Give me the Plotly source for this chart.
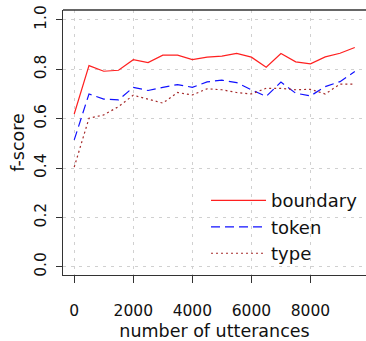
import plotly.graph_objects as go

utterances = [0, 500, 1000, 1500, 2000, 2500, 3000, 3500, 4000, 4500,
              5000, 5500, 6000, 6500, 7000, 7500, 8000, 8500, 9000, 9500]
boundary = [0.619, 0.815, 0.792, 0.796, 0.839, 0.827, 0.857, 0.857, 0.839, 0.849,
            0.853, 0.864, 0.849, 0.808, 0.864, 0.830, 0.822, 0.850, 0.865, 0.888]
token = [0.514, 0.700, 0.679, 0.676, 0.727, 0.714, 0.727, 0.738, 0.727, 0.749,
         0.756, 0.746, 0.717, 0.690, 0.748, 0.703, 0.692, 0.730, 0.750, 0.791]
type_ = [0.404, 0.602, 0.615, 0.649, 0.695, 0.680, 0.663, 0.706, 0.696, 0.721,
         0.717, 0.706, 0.700, 0.723, 0.723, 0.717, 0.719, 0.700, 0.740, 0.740]
x_ticks = [0, 2000, 4000, 6000, 8000]
y_ticks = [0.0, 0.2, 0.4, 0.6, 0.8, 1.0]
y_tick_labels = ["0.0", "0.2", "0.4", "0.6", "0.8", "1.0"]

FONT = "DejaVu Sans"
fig = go.Figure()
fig.add_trace(go.Scatter(x=utterances, y=boundary, mode="lines", name="boundary",
                         line=dict(color="#FF2020", width=1.2)))
fig.add_trace(go.Scatter(x=utterances, y=token, mode="lines", name="token",
                         line=dict(color="#1010FF", width=1.2, dash="9px,5px")))
fig.add_trace(go.Scatter(x=utterances, y=type_, mode="lines", name="type",
                         line=dict(color="#A52A2A", width=1.2, dash="2px,3px")))

grid = dict(showgrid=True, gridcolor="#D0D0D0", griddash="3px,5px", gridwidth=1)
fig.update_xaxes(range=[-380, 9880], tickvals=x_ticks,
                 ticktext=[str(v) for v in x_ticks],
                 ticks="outside", ticklen=7, tickcolor="#333", showline=True,
                 linecolor="#333", linewidth=1.3, mirror=False, zeroline=False,
                 ticklabelstandoff=14, automargin=False,
                 tickfont=dict(family=FONT, size=15.5, color="#111"),
                 title=dict(text="number of utterances", standoff=10,
                            font=dict(family=FONT, size=17.5, color="#111")),
                 **grid)
fig.update_yaxes(range=[-0.033, 1.04], tickvals=y_ticks, ticktext=y_tick_labels,
                 ticks="outside", ticklen=6, tickcolor="#333", showline=True,
                 linecolor="#333", linewidth=1.3, mirror=False, zeroline=False,
                 tickangle=-90, ticklabelstandoff=4, automargin=False,
                 tickfont=dict(family=FONT, size=15.5, color="#111"),
                 title=dict(text="f-score", standoff=2,
                            font=dict(family=FONT, size=17.5, color="#111")),
                 **grid)
fig.add_shape(type="line", xref="paper", yref="paper", x0=0, x1=1, y0=1, y1=1,
              line=dict(color="#333", width=1.3))
fig.update_layout(
    width=366, height=341,
    margin=dict(l=63, r=0, t=10, b=66),
    plot_bgcolor="white", paper_bgcolor="white",
    showlegend=True,
    legend=dict(x=0.472, y=0.35, xanchor="left", yanchor="top",
                bgcolor="rgba(0,0,0,0)", borderwidth=0,
                font=dict(family=FONT, size=18, color="#111"),
                itemwidth=55, traceorder="normal"),
)
fig.write_html("out.html", config={"displayModeBar": False},
               post_script="document.body.style.margin='0';document.body.style.overflow='hidden';")
